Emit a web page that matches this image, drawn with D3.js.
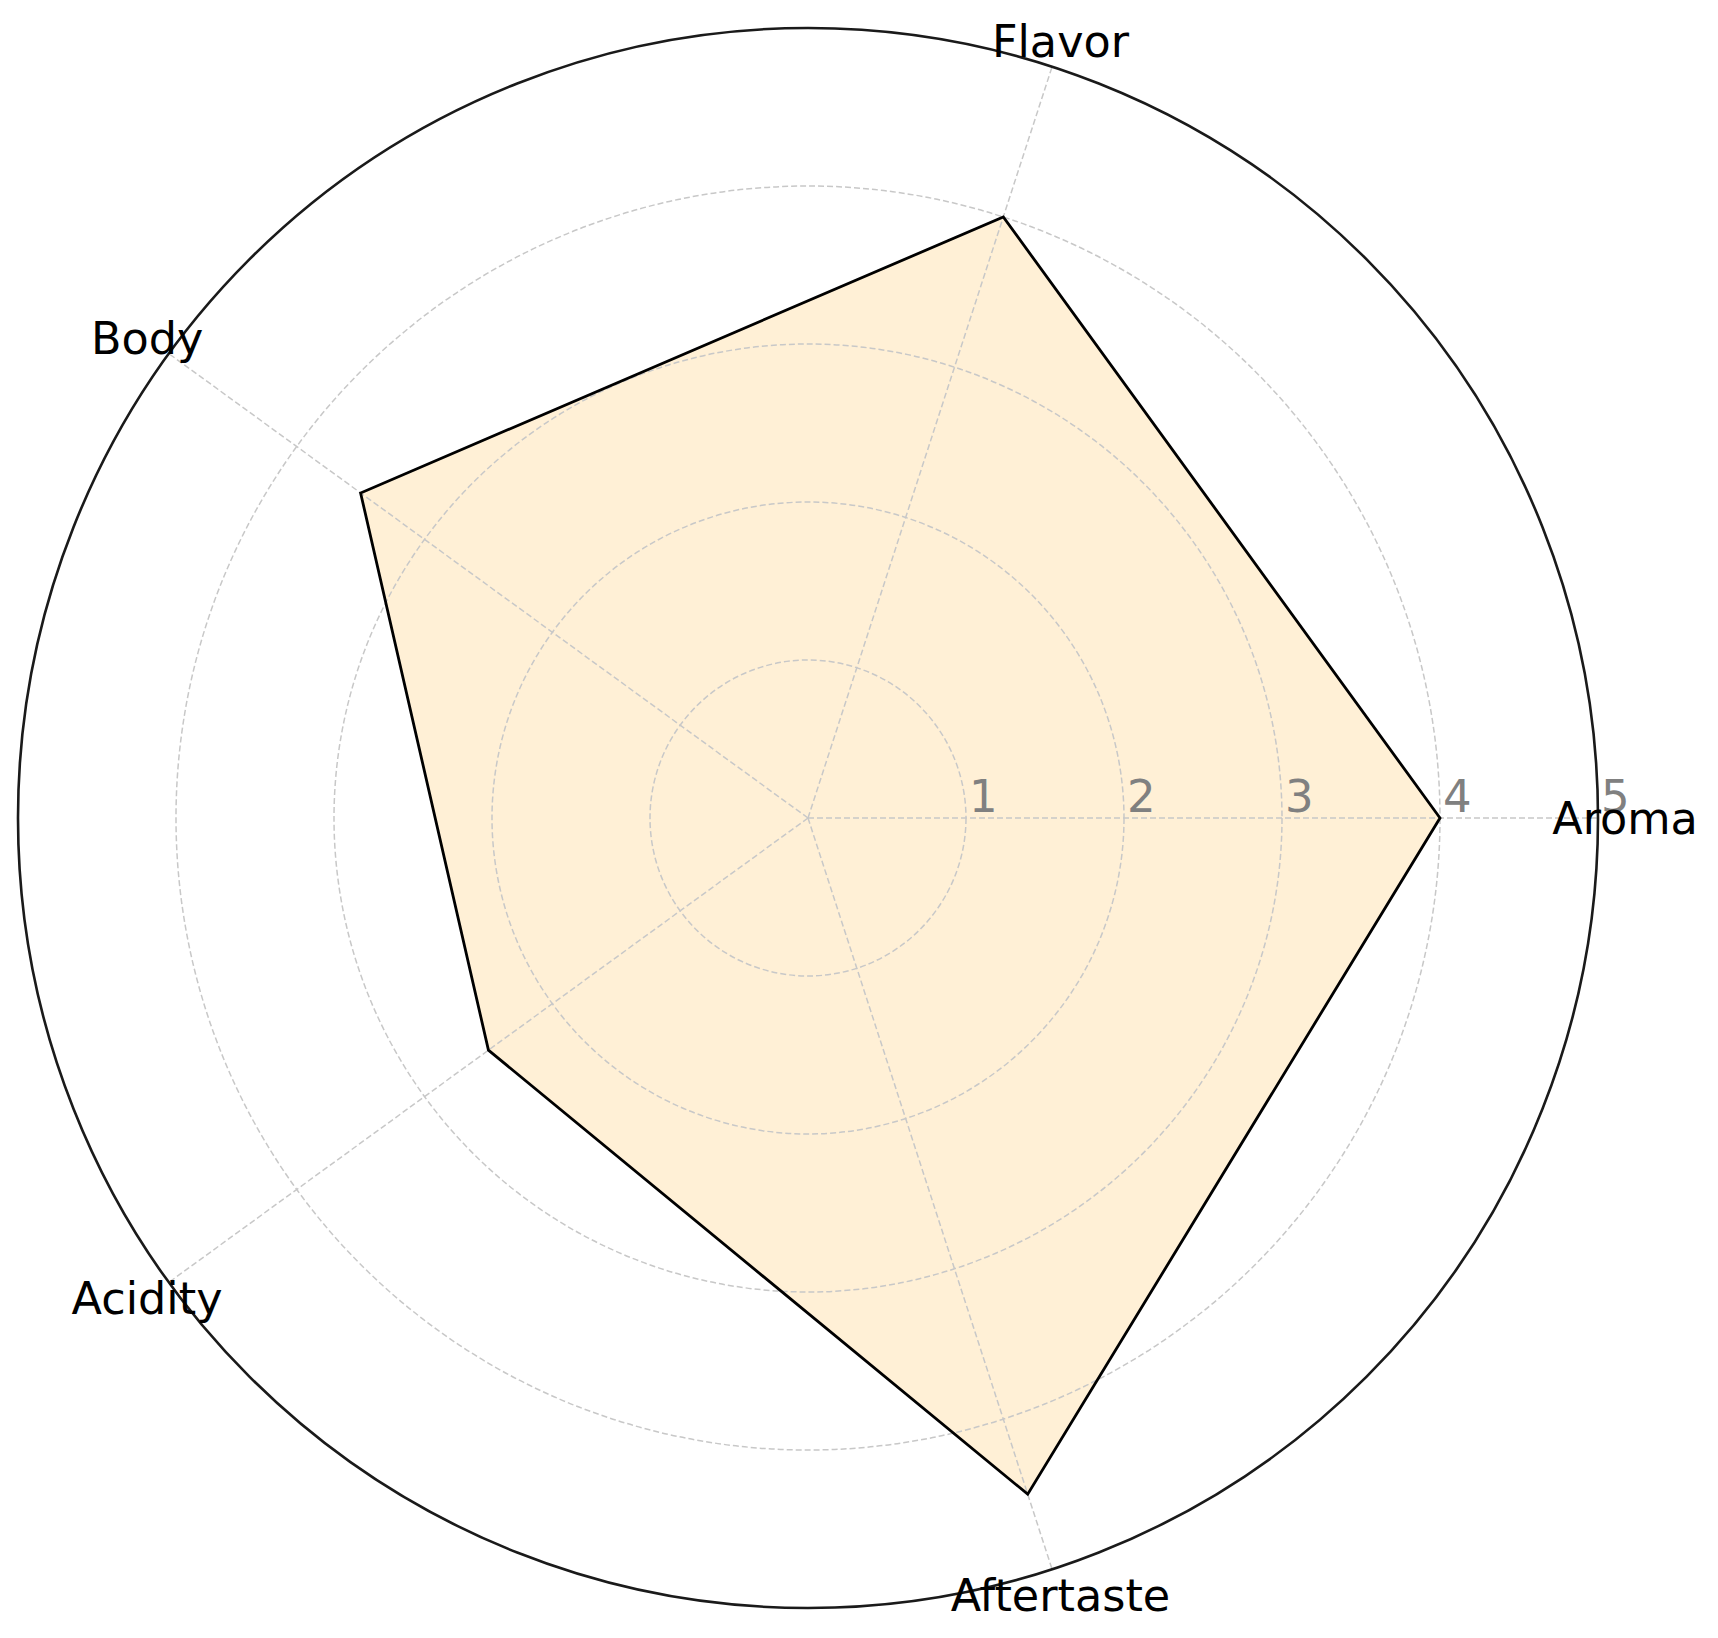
<!DOCTYPE html>
<html lang="en">
<head>
<meta charset="utf-8">
<title>Coffee profile radar</title>
<script src="https://cdnjs.cloudflare.com/ajax/libs/d3/7.8.5/d3.min.js"></script>
<style>
  body { margin: 0; background: #fff; }
  svg { display: block; font-family: "DejaVu Sans", sans-serif; }
</style>
</head>
<body>
<div class="chart"></div>
<script>
// data
const categories = ["Aroma", "Flavor", "Body", "Acidity", "Aftertaste"];
const scores = [4, 4, 3.5, 2.5, 4.5];
const rTicks = [1, 2, 3, 4, 5];

const w = 1718;
const h = 1638;
const cx = 808;
const cy = 818;
const rMax = 790;

const rScale = d3.scaleLinear().domain([0, 5]).range([0, rMax]);
// matplotlib style: 0 rad to the east, counter-clockwise
const theta = d3.scaleLinear().domain([0, categories.length]).range([0, 2 * Math.PI]);
// d3 radial uses 0 at top, clockwise
const d3Angle = i => Math.PI / 2 - theta(i);

const svg = d3.select(".chart").append("svg")
  .attr("width", w)
  .attr("height", h);

const g = svg.append("g").attr("transform", "translate(" + cx + "," + cy + ")");

// filled area
const pts = scores.map((s, i) => [d3Angle(i), rScale(s)]);
const radial = d3.lineRadial().angle(d => d[0]).radius(d => d[1]).curve(d3.curveLinearClosed);

g.append("path")
  .attr("d", radial(pts))
  .attr("fill", "#fff0d6")
  .attr("stroke", "none");

// grid circles
g.selectAll(".ring")
  .data(rTicks.slice(0, -1))
  .enter().append("circle")
  .attr("class", "ring")
  .attr("r", d => rScale(d))
  .attr("fill", "none")
  .attr("stroke", "#c8c8c8")
  .attr("stroke-width", 1.5)
  .attr("stroke-dasharray", "6,3");

// spokes
g.selectAll(".spoke")
  .data(categories)
  .enter().append("line")
  .attr("class", "spoke")
  .attr("x1", 0).attr("y1", 0)
  .attr("x2", (d, i) => rScale(5) * Math.cos(theta(i)))
  .attr("y2", (d, i) => -rScale(5) * Math.sin(theta(i)))
  .attr("stroke", "#c8c8c8")
  .attr("stroke-width", 1.5)
  .attr("stroke-dasharray", "6,3");

// outline
g.append("path")
  .attr("d", radial(pts))
  .attr("fill", "none")
  .attr("stroke", "#000")
  .attr("stroke-width", 2.8)
  .attr("stroke-linejoin", "miter");

// outer spine
g.append("circle")
  .attr("r", rScale(5))
  .attr("fill", "none")
  .attr("stroke", "#1a1a1a")
  .attr("stroke-width", 2.6);

// radial tick labels
g.selectAll(".rtick")
  .data(rTicks)
  .enter().append("text")
  .attr("class", "rtick")
  .attr("x", d => rScale(d) + 3)
  .attr("y", -6)
  .attr("fill", "#808080")
  .attr("font-size", 45)
  .text(d => d);

// category labels
const labelR = rScale(5) + 27;
g.selectAll(".cat")
  .data(categories)
  .enter().append("text")
  .attr("class", "cat")
  .attr("x", (d, i) => labelR * Math.cos(theta(i)))
  .attr("y", (d, i) => -labelR * Math.sin(theta(i)) + 16)
  .attr("text-anchor", "middle")
  .attr("fill", "#000")
  .attr("font-size", 44.5)
  .text(d => d);
</script>
</body>
</html>
